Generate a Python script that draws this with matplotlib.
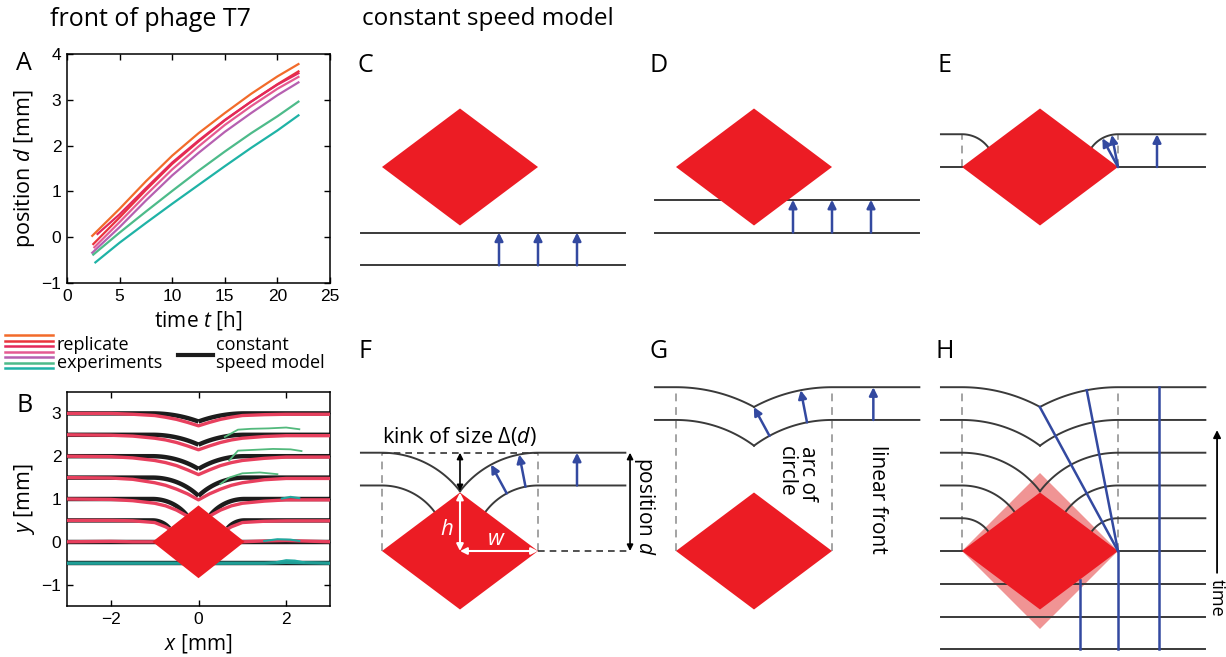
import numpy as np
import matplotlib.pyplot as plt
from matplotlib.patches import Polygon

plt.rcParams['font.family'] = ['Open Sans', 'DejaVu Sans']
plt.rcParams['mathtext.fontset'] = 'custom'
plt.rcParams['mathtext.it'] = 'Open Sans:italic'
plt.rcParams['mathtext.rm'] = 'Open Sans'

# ---- panel A: front position vs time (7 replicate experiments)
rep_colors = ['#f26b2a', '#e9343c', '#e3285a', '#e55a92', '#b660b0', '#4dbb8a', '#1fb3a6']
t_orange = [2.4, 5, 7.5, 10, 12.5, 15, 17.5, 20, 22]
d_orange = [0.03, 0.62, 1.22, 1.78, 2.27, 2.71, 3.13, 3.51, 3.78]
t_red = [2.5, 5, 7.5, 10, 12.5, 15, 17.5, 20, 22]
d_red = [-0.15, 0.43, 1.03, 1.60, 2.09, 2.55, 2.96, 3.34, 3.62]
t_crimson = [2.9, 5, 7.5, 10, 12.5, 15, 17.5, 20, 22]
d_crimson = [0.07, 0.50, 1.07, 1.63, 2.11, 2.56, 2.96, 3.33, 3.58]
t_pink = [2.6, 5, 7.5, 10, 12.5, 15, 17.5, 20, 22]
d_pink = [-0.22, 0.33, 0.92, 1.48, 1.98, 2.45, 2.86, 3.24, 3.50]
t_purple = [2.4, 5, 7.5, 10, 12.5, 15, 17.5, 20, 22]
d_purple = [-0.34, 0.22, 0.80, 1.35, 1.84, 2.30, 2.71, 3.10, 3.38]
t_green = [2.5, 5, 7.5, 10, 12.5, 15, 17.5, 20, 22]
d_green = [-0.38, 0.10, 0.56, 1.01, 1.45, 1.87, 2.27, 2.64, 2.96]
t_teal = [2.7, 5, 7.5, 10, 12.5, 15, 17.5, 20, 22]
d_teal = [-0.55, -0.12, 0.31, 0.73, 1.14, 1.55, 1.95, 2.33, 2.66]
A_times = [t_orange, t_red, t_crimson, t_pink, t_purple, t_green, t_teal]
A_pos = [d_orange, d_red, d_crimson, d_pink, d_purple, d_green, d_teal]

# ---- panel B: front shapes around the diamond obstacle
B_levels = [-0.5, 0, 0.5, 1.0, 1.5, 2.0, 2.5, 3.0]
B_w, B_h = 1.05, 0.85
x_exp = [-3, -2, -1.5, -1.0, -0.75, -0.5, -0.25, 0, 0.25, 0.5, 0.75, 1.0, 1.5, 2, 3]
exp_fronts = [
    [-0.5, -0.5, -0.5, -0.5, -0.5, -0.5, -0.5, -0.5, -0.5, -0.5, -0.5, -0.5, -0.5, -0.48, -0.5],
    [0.0, 0.01, 0.0, 0.0, 0.0, 0.0, 0.0, 0.0, 0.0, 0.0, 0.0, 0.0, 0.02, 0.03, 0.0],
    [0.5, 0.5, 0.49, 0.45, 0.35, 0.2, 0.1, 0.0, 0.1, 0.2, 0.35, 0.45, 0.48, 0.49, 0.49],
    [1.0, 0.99, 0.96, 0.90, 0.84, 0.74, 0.6, 0.3, 0.6, 0.74, 0.84, 0.90, 0.95, 0.98, 0.98],
    [1.5, 1.49, 1.46, 1.38, 1.32, 1.23, 1.12, 0.98, 1.12, 1.23, 1.32, 1.38, 1.45, 1.48, 1.48],
    [2.0, 1.99, 1.96, 1.90, 1.85, 1.78, 1.68, 1.57, 1.68, 1.78, 1.85, 1.90, 1.95, 1.98, 1.98],
    [2.5, 2.49, 2.47, 2.42, 2.38, 2.32, 2.24, 2.15, 2.24, 2.32, 2.38, 2.42, 2.46, 2.48, 2.48],
    [3.0, 3.0, 2.98, 2.95, 2.91, 2.86, 2.79, 2.71, 2.79, 2.86, 2.91, 2.95, 2.97, 2.98, 2.98],
]
exp_colors = ['#1f9e96'] + ['#e8405e'] * 7
green_x = [[0.6, 0.9, 1.2, 1.6, 2.0, 2.3], [0.7, 0.9, 1.3, 1.7, 2.1, 2.35], [0.5, 0.7, 1.0, 1.4, 1.8]]
green_y = [[2.45, 2.62, 2.64, 2.65, 2.67, 2.63], [1.9, 2.13, 2.15, 2.17, 2.16, 2.12], [1.35, 1.5, 1.6, 1.62, 1.58]]
teal_x = [[1.5, 1.8, 2.1, 2.3], [1.8, 2.0, 2.2, 2.4], [1.9, 2.1, 2.3]]
teal_y = [[0.02, 0.06, 0.05, 0.02], [-0.47, -0.43, -0.44, -0.48], [1.01, 1.05, 1.02]]

# ---- schematic panels C-H (units: diamond half-width = 1)
U = 78.0
dia_h = 0.75
step = 0.42
panel_names = ['C', 'D', 'E', 'F', 'G', 'H']
panel_cx = [460, 754, 1040, 460, 754, 1040]
panel_cy = [167, 167, 167, 551, 551, 551]
panel_fronts = [[-2, -3], [-1, -2], [1, 0], [3, 2], [5, 4], [5, 4, 3, 2, 1, 0, -1, -2, -3]]
arrow_k = [-3, -2, 0, 2, 4, None]
flat_arrow_x = [[0.5, 1.0, 1.5], [0.5, 1.0, 1.5], [1.5], [1.5], [1.53], []]
radial_deg = [101, 118.5]
X0, X1 = -1.27, 2.12

BLUE = '#3349a0'
GRAY = '#3a3a3a'
DASH = '#a3a3a3'
RED = '#ec1c24'

W, H = 1226, 657
fig = plt.figure(figsize=(12.26, 6.57), dpi=100)


def px_rect(left, top, right, bottom):
    return [left / W, 1 - bottom / H, (right - left) / W, (bottom - top) / H]


def front_pieces(r, w, h, x0, x1, n=60):
    if r <= 0:
        return [(np.array([x0, x1]), np.array([r, r]))]
    edge = np.degrees(np.arctan2(h, w))
    stop = max(edge, np.degrees(np.arccos(min(w / r, 1.0))))
    phi = np.radians(np.linspace(90, stop, n))
    ys = np.concatenate([[r], r * np.sin(phi)])
    xl = np.concatenate([[x0], -w + r * np.cos(phi)])
    xr = np.concatenate([[x1], w - r * np.cos(phi)])
    return [(xl, ys), (xr, ys)]


def diamond(ax, w, h, color, z):
    ax.add_patch(Polygon([(-w, 0), (0, h), (w, 0), (0, -h)], closed=True,
                         facecolor=color, edgecolor='none', zorder=z))


def style_axes(ax):
    ax.tick_params(direction='in', top=True, right=True, length=4, width=1,
                   labelsize=12.5, pad=4, labelfontfamily='Liberation Sans')
    for sp in ax.spines.values():
        sp.set_linewidth(1.1)


# ---------------- panel A
axA = fig.add_axes(px_rect(67, 54, 330, 283))
for t, d, c in zip(A_times, A_pos, rep_colors):
    axA.plot(t, d, color=c, lw=1.6)
axA.set_xlim(0, 25)
axA.set_ylim(-1, 4)
axA.set_xticks([0, 5, 10, 15, 20, 25])
axA.set_yticks([-1, 0, 1, 2, 3, 4])
style_axes(axA)
axA.set_xlabel('time $t$ [h]', fontsize=15, labelpad=4)
axA.set_ylabel('position $d$ [mm]', fontsize=15.5, labelpad=3)

# ---------------- panel B
axB = fig.add_axes(px_rect(67, 392, 330, 606))
for lev in B_levels:
    for xs, ys in front_pieces(lev, B_w, B_h, -3.2, 3.2):
        axB.plot(xs, ys, color='#1c1c1c', lw=3.2, zorder=2, solid_capstyle='butt')
for vals, c in zip(exp_fronts, exp_colors):
    axB.plot(x_exp, vals, color=c, lw=2.4, zorder=3)
for gx, gy in zip(green_x, green_y):
    axB.plot(gx, gy, color='#52b97c', lw=1.3, zorder=3)
for tx, ty in zip(teal_x, teal_y):
    axB.plot(tx, ty, color='#1fa89f', lw=1.5, zorder=3)
diamond(axB, B_w, B_h, RED, 5)
axB.set_xlim(-3, 3)
axB.set_ylim(-1.5, 3.5)
axB.set_xticks([-2, 0, 2])
axB.set_yticks([-1, 0, 1, 2, 3])
style_axes(axB)
axB.set_xlabel('$x$ [mm]', fontsize=15, labelpad=4)
axB.set_ylabel('$y$ [mm]', fontsize=15.5, labelpad=3)

# legend between A and B
axL = fig.add_axes([0, 0, 1, 1])
axL.set_xlim(0, W)
axL.set_ylim(H, 0)
axL.axis('off')
for i, c in enumerate(rep_colors):
    axL.plot([5, 53], [335 + i * 5.5, 335 + i * 5.5], color=c, lw=1.8)
axL.plot([178, 213], [355, 355], color='#1c1c1c', lw=3)
axL.text(57, 345, 'replicate', fontsize=13, va='center')
axL.text(57, 363, 'experiments', fontsize=13, va='center')
axL.text(216, 345, 'constant', fontsize=13, va='center')
axL.text(216, 363, 'speed model', fontsize=13, va='center')

# titles and panel letters
fig.text(50 / W, 1 - 19 / H, 'front of phage T7', fontsize=18, va='center')
fig.text(362 / W, 1 - 19 / H, 'constant speed model', fontsize=17.5, va='center')
fig.text(24 / W, 1 - 64 / H, 'A', fontsize=18, ha='center', va='center')
fig.text(25 / W, 1 - 405 / H, 'B', fontsize=18, ha='center', va='center')
for name, cx, cy in zip(panel_names, panel_cx, panel_cy):
    ly = 65 if cy < 300 else 352
    fig.text((cx - 95) / W, 1 - ly / H, name, fontsize=18, ha='center', va='center')

# ---------------- schematic panels
axes_s = []
for i, (cx, cy) in enumerate(zip(panel_cx, panel_cy)):
    ylo, yhi = (-2.05, 1.6) if cy < 300 else (-1.35, 2.75)
    xlo, xhi = -1.5, 2.5
    ax = fig.add_axes(px_rect(cx + xlo * U, cy - yhi * U, cx + xhi * U, cy - ylo * U))
    ax.set_xlim(xlo, xhi)
    ax.set_ylim(ylo, yhi)
    ax.axis('off')
    axes_s.append(ax)

    ks = panel_fronts[i]
    for k in ks:
        for xs, ys in front_pieces(k * step, 1.0, dia_h, X0, X1):
            ax.plot(xs, ys, color=GRAY, lw=1.4, zorder=3)
    top = max(ks) * step
    if top > 0:
        for sx in (-1, 1):
            ax.plot([sx, sx], [0, top], color=DASH, lw=1.4, ls=(0, (4, 3)), zorder=2)
    diamond(ax, 1.0, dia_h, RED, 5)

    k0 = arrow_k[i]
    if k0 is not None:
        arr = dict(arrowstyle='-|>', color=BLUE, lw=1.8, mutation_scale=12,
                   shrinkA=0, shrinkB=0)
        for xa in flat_arrow_x[i]:
            ax.annotate('', xy=(xa, (k0 + 1) * step), xytext=(xa, k0 * step),
                        arrowprops=arr, zorder=6)
        if k0 >= 0:
            for deg in radial_deg:
                c, s = np.cos(np.radians(deg)), np.sin(np.radians(deg))
                r0, r1 = k0 * step, (k0 + 1) * step
                ax.annotate('', xy=(1 + r1 * c, r1 * s), xytext=(1 + r0 * c, r0 * s),
                            arrowprops=arr, zorder=6)

# panel F annotations
axF = axes_s[3]
top_F = 3 * step
kink_F = np.sqrt(top_F ** 2 - 1.0)
axF.plot([-1, 1], [top_F, top_F], color='#333333', lw=1.2, ls=(0, (4, 3)))
axF.plot([1, 2.18], [0, 0], color='#333333', lw=1.2, ls=(0, (4, 3)))
blk = dict(arrowstyle='<|-|>', color='black', lw=1.2, mutation_scale=9, shrinkA=0, shrinkB=0)
axF.annotate('', xy=(0, top_F), xytext=(0, kink_F), arrowprops=blk)
axF.annotate('', xy=(2.18, top_F), xytext=(2.18, 0), arrowprops=blk)
wht = dict(arrowstyle='<|-|>', color='white', lw=1.5, mutation_scale=10, shrinkA=0, shrinkB=0)
axF.annotate('', xy=(0, dia_h), xytext=(0, 0), arrowprops=wht, zorder=7)
axF.annotate('', xy=(1, 0), xytext=(0, 0), arrowprops=wht, zorder=7)
axF.text(-0.17, 0.28, 'h', color='white', fontsize=16, style='italic',
         ha='center', va='center', zorder=8)
axF.text(0.46, 0.15, 'w', color='white', fontsize=16, style='italic',
         ha='center', va='center', zorder=8)
axF.text(-1.0, 1.47, 'kink of size Δ($d$)', fontsize=15.5, va='center')
axF.text(2.36, 0.58, 'position $d$', fontsize=15, rotation=270,
         ha='center', va='center')

# panel G annotations
axG = axes_s[4]
axG.text(0.55, 1.34, 'arc of\ncircle', fontsize=15, rotation=270,
         ha='center', va='top', multialignment='left', linespacing=1.0)
axG.text(1.58, 1.36, 'linear front', fontsize=15, rotation=270,
         ha='center', va='top')

# panel H: growing obstacle and characteristic lines
axH = axes_s[5]
diamond(axH, 1.0, 1.0, '#f09494', 1)
low = -3 * step
axH.plot([1.53, 1.53], [low, 5 * step], color=BLUE, lw=1.8, zorder=6)
axH.plot([1.0, 1.0], [low, 0], color=BLUE, lw=1.8, zorder=6)
axH.plot([0.51, 0.51], [low, -(1 - 0.51) * dia_h], color=BLUE, lw=1.8, zorder=6)
for deg in radial_deg:
    c, s = np.cos(np.radians(deg)), np.sin(np.radians(deg))
    axH.plot([1, 1 + 5 * step * c], [0, 5 * step * s], color=BLUE, lw=1.8, zorder=6)
axH.annotate('', xy=(2.27, 1.55), xytext=(2.27, -0.28),
             arrowprops=dict(arrowstyle='-|>', color='black', lw=1.3,
                             mutation_scale=11, shrinkA=0, shrinkB=0),
             annotation_clip=False)
axH.text(2.27, -0.36, 'time', fontsize=13, rotation=270, ha='center', va='top',
         clip_on=False)

fig.savefig('out.png', dpi=100)
